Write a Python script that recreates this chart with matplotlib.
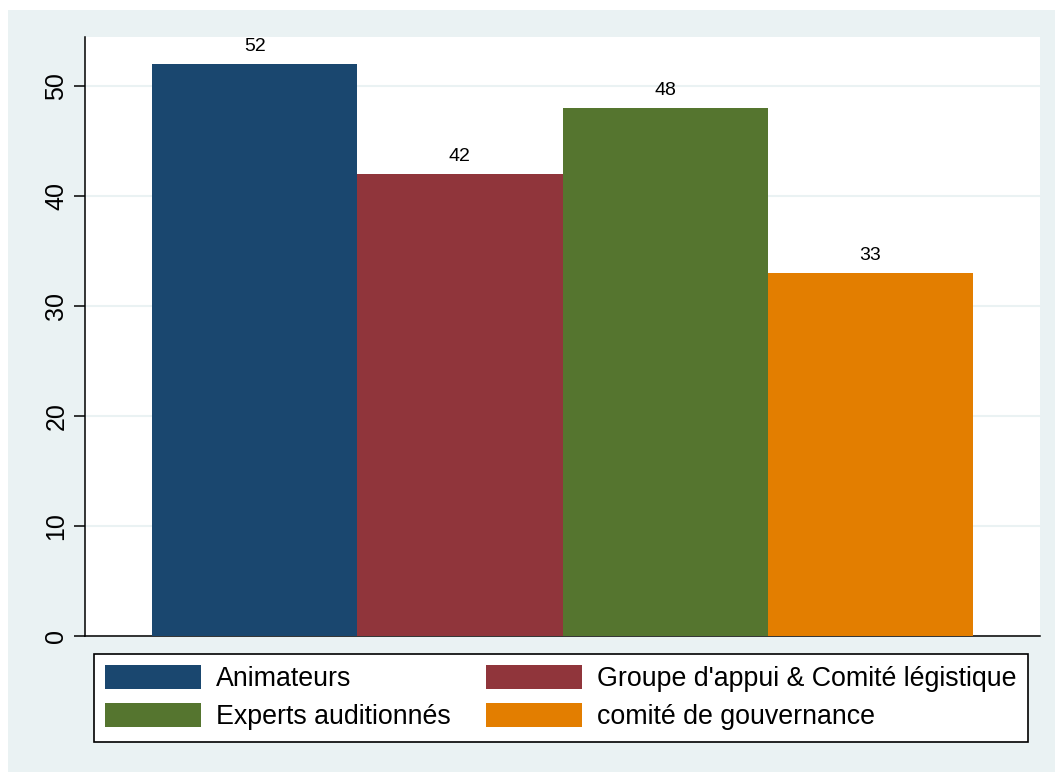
import matplotlib
matplotlib.use("Agg")
import matplotlib.pyplot as plt
from matplotlib.patches import Rectangle

plt.rcParams['font.family'] = ['Liberation Sans', 'DejaVu Sans']

#data
groups = ["Animateurs", "Groupe d'appui & Comité légistique",
          "Experts auditionnés", "comité de gouvernance"]
values = [52, 42, 48, 33]
colors = ["#1A476F", "#90353B", "#55752F", "#E37E00"]
yticks = [0, 10, 20, 30, 40, 50]

bg = "#EAF2F3"

fig = plt.figure(figsize=(10.55, 7.72), dpi=100)
fig.patch.set_facecolor("white")
#stata-like outer background
fig.patches.append(Rectangle((8/1055, 0), 1 - 8/1055, 1 - 10/772,
                             transform=fig.transFigure, facecolor=bg,
                             edgecolor="none", zorder=-10))

ax = fig.add_axes([85/1055, 1 - 636/772, (1040 - 85)/1055, (636 - 37)/772])
ax.set_facecolor("white")

x = list(range(len(values)))
bars = []
for i in x:
    b = ax.bar(i, values[i], width=1.0, color=colors[i], label=groups[i], zorder=3)
    bars.append(b)
    ax.bar_label(b, labels=[str(values[i])], padding=7, fontsize=14, zorder=4)

ax.set_xlim(-0.827, 3.827)
ax.set_ylim(0, 54.5)
ax.set_yticks(yticks)
ax.set_yticklabels([str(t) for t in yticks], rotation=90, va="center", fontsize=18)
ax.tick_params(axis="y", length=8, width=1.1, pad=4)
ax.set_xticks([])
ax.grid(axis="y", color=bg, linewidth=1.5, zorder=0)

for s in ["top", "right"]:
    ax.spines[s].set_visible(False)
for s in ["left", "bottom"]:
    ax.spines[s].set_linewidth(1.1)
    ax.spines[s].set_color("black")

#legend filled row by row, like stata
order = [0, 2, 1, 3]
handles = [bars[k][0] for k in order]
labels = [groups[k] for k in order]
leg = fig.legend(handles, labels, ncol=2, fontsize=19.3,
                 loc="upper left", bbox_to_anchor=(94/1055, 1 - 654/772),
                 frameon=True, fancybox=False, framealpha=1,
                 handlelength=3.58, handleheight=1.0, handletextpad=0.56,
                 labelspacing=0.4, columnspacing=1.3,
                 borderpad=0.42, borderaxespad=0)
leg.get_frame().set_edgecolor("black")
leg.get_frame().set_facecolor("white")
leg.get_frame().set_linewidth(1.2)

fig.savefig("out.png", dpi=100)
